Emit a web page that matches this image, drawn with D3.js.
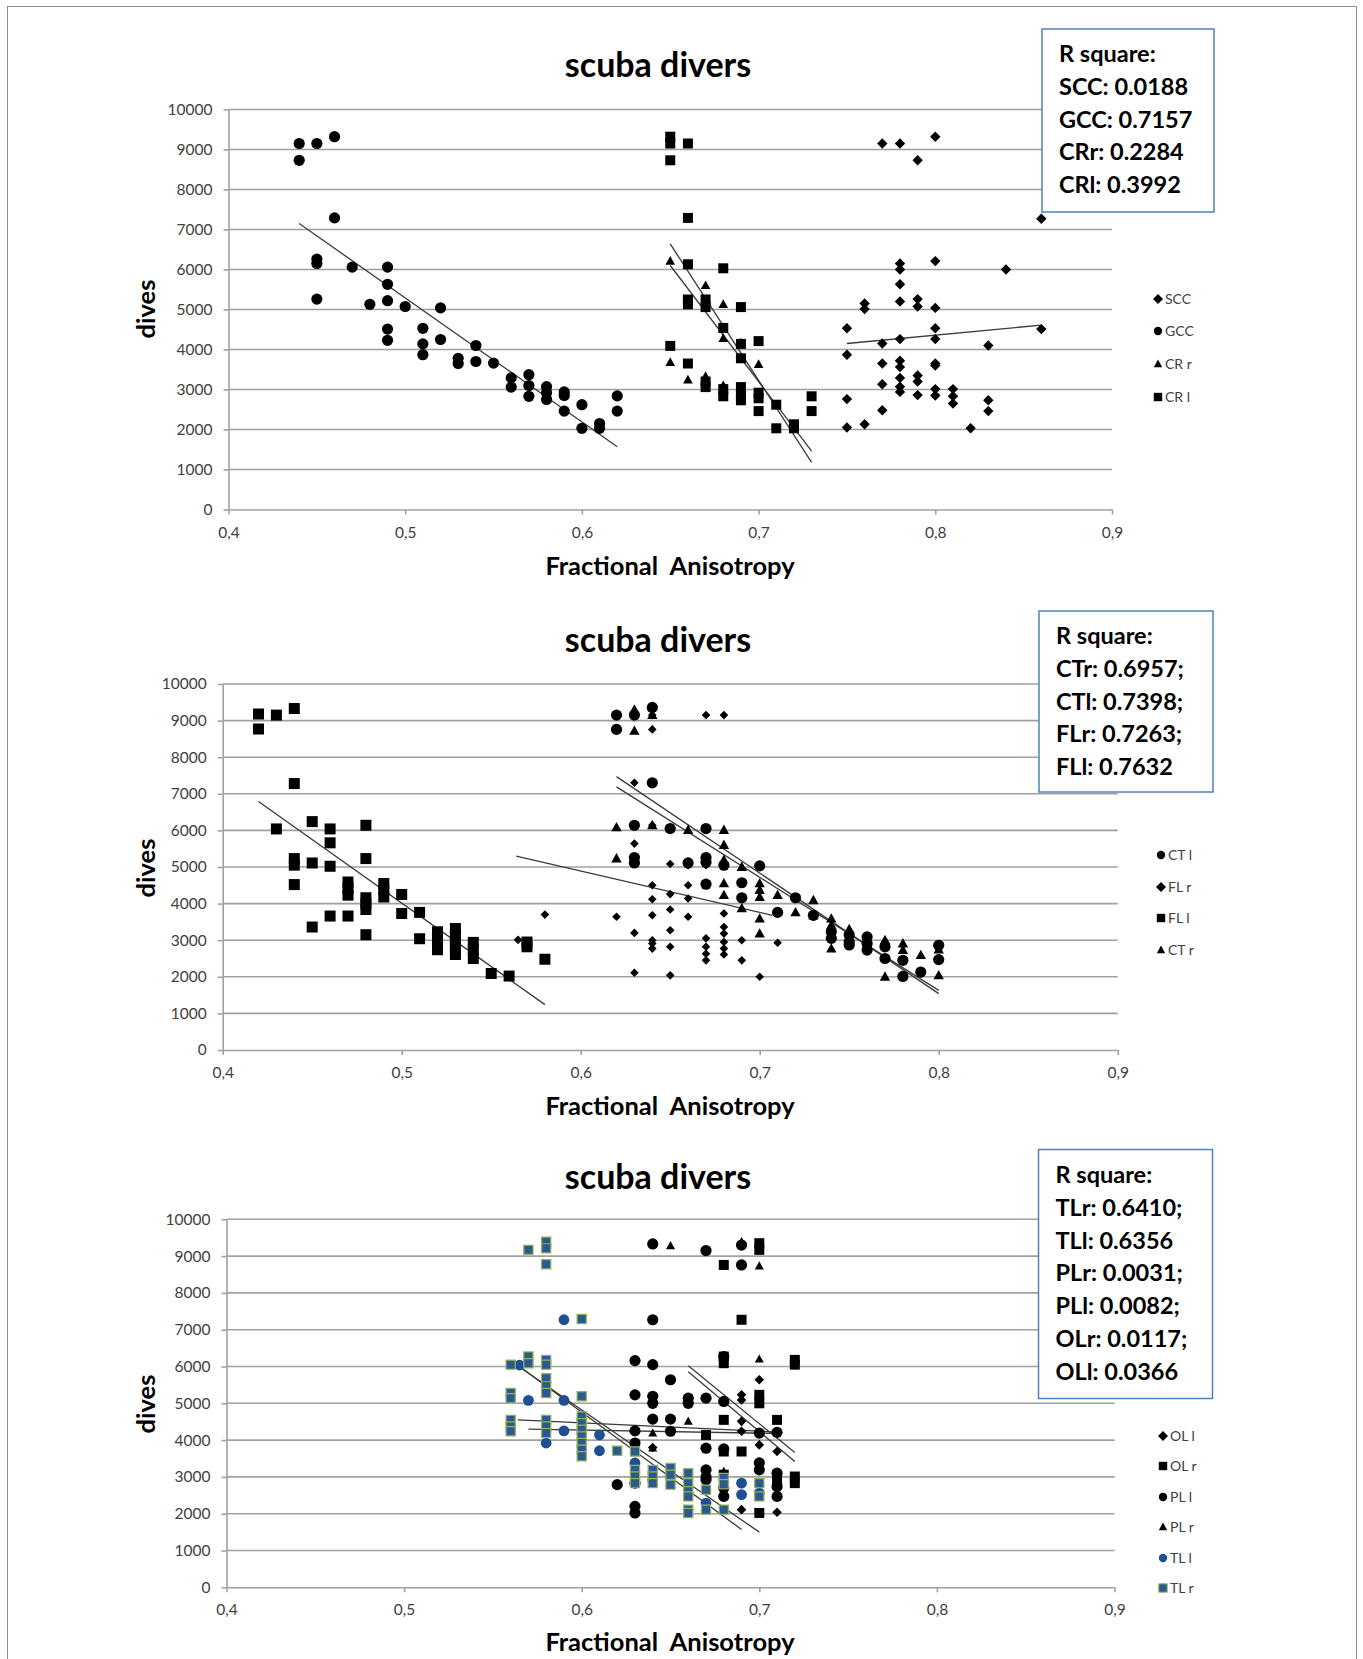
<!DOCTYPE html>
<html>
<head>
<meta charset="utf-8">
<script src="https://cdn.jsdelivr.net/npm/d3@7"></script>
<style>
  body { margin: 0; background: #fff; }
  svg { display: block; }
</style>
</head>
<body>
<div id="chart"></div>
<script>
// ---- data: [fractional anisotropy, dives] ----
const xTicks = [0.4, 0.5, 0.6, 0.7, 0.8, 0.9];
const yTicks = [0, 1000, 2000, 3000, 4000, 5000, 6000, 7000, 8000, 9000, 10000];

// panel 1
const scc = [[0.77,9150],[0.78,9150],[0.79,8730],[0.80,9320],[0.86,7270],[0.78,6150],[0.78,6000],[0.80,6210],[0.84,6000],
  [0.78,5630],[0.76,5150],[0.76,5010],[0.78,5200],[0.79,5260],[0.79,5075],[0.80,5040],[0.75,4530],[0.80,4530],[0.86,4510],
  [0.77,4150],[0.78,4260],[0.80,4260],[0.83,4100],[0.75,3870],[0.77,3650],[0.78,3720],[0.78,3560],[0.80,3650],[0.80,3600],
  [0.77,3130],[0.78,3290],[0.78,3070],[0.78,2940],[0.79,3350],[0.79,3200],[0.79,2860],[0.80,3010],[0.80,2850],[0.81,3010],
  [0.81,2830],[0.81,2650],[0.83,2730],[0.83,2460],[0.75,2760],[0.77,2480],[0.75,2050],[0.76,2130],[0.82,2030]];
const gcc = [[0.44,9150],[0.44,8730],[0.45,9150],[0.46,9320],[0.46,7290],[0.45,6260],[0.45,6150],[0.45,5260],[0.47,6060],
  [0.48,5130],[0.49,6060],[0.49,5630],[0.49,5220],[0.49,4510],[0.49,4230],[0.50,5075],[0.51,4530],[0.51,4140],[0.51,3870],
  [0.52,5040],[0.52,4250],[0.53,3780],[0.53,3650],[0.54,4100],[0.54,3700],[0.55,3660],[0.56,3290],[0.56,3060],[0.57,3370],
  [0.57,3100],[0.57,2830],[0.58,3070],[0.58,2920],[0.58,2750],[0.59,2940],[0.59,2850],[0.59,2460],[0.60,2620],[0.60,2030],
  [0.61,2150],[0.61,2030],[0.62,2840],[0.62,2460]];
const crR = [[0.65,6210],[0.65,3680],[0.66,3240],[0.67,5600],[0.67,3330],[0.68,5130],[0.68,4280],[0.68,3100],[0.69,4170],[0.70,3630]];
const crL = [[0.65,9320],[0.65,9150],[0.65,8730],[0.66,9150],[0.66,7290],[0.66,6130],[0.66,5250],[0.66,5130],[0.65,4090],
  [0.66,3650],[0.67,5250],[0.67,5060],[0.67,3200],[0.67,3060],[0.68,6030],[0.68,4540],[0.68,3010],[0.68,2830],[0.69,5060],
  [0.69,4140],[0.69,3780],[0.69,3060],[0.69,2870],[0.69,2730],[0.70,4210],[0.70,2920],[0.70,2780],[0.70,2460],[0.71,2620],
  [0.71,2030],[0.72,2130],[0.72,2030],[0.73,2830],[0.73,2460]];
const sccTrend = [[0.75,4150],[0.86,4610]];
const gccTrend = [[0.44,7150],[0.62,1570]];
const crRTrend = [[0.65,6100],[0.73,1460]];
const crLTrend = [[0.65,6640],[0.73,1180]];
const rSquare1 = ['R square:', 'SCC: 0.0188', 'GCC: 0.7157', 'CRr: 0.2284', 'CRl: 0.3992'];

// panel 2
const ctL = [[0.62,9150],[0.62,8760],[0.63,9150],[0.64,9360],[0.64,7300],[0.63,6140],[0.65,6050],[0.67,6050],[0.63,5260],
  [0.63,5110],[0.66,5110],[0.67,5260],[0.67,5130],[0.68,5050],[0.70,5030],[0.67,4530],[0.69,4570],[0.69,4160],[0.72,4160],
  [0.71,3760],[0.73,3680],[0.74,3230],[0.74,3050],[0.75,3140],[0.75,2960],[0.75,2870],[0.76,3090],[0.76,2910],[0.76,2730],
  [0.77,2820],[0.77,2500],[0.78,2450],[0.78,2010],[0.79,2130],[0.80,2860],[0.80,2470]];
const flR = [[0.565,3010],[0.58,3700],[0.62,3640],[0.63,7300],[0.63,5640],[0.63,3200],[0.63,2110],[0.64,8760],[0.64,9150],
  [0.64,6140],[0.64,4500],[0.64,4120],[0.64,3680],[0.64,3000],[0.64,2910],[0.64,2770],[0.65,5080],[0.65,4260],[0.65,3840],
  [0.65,3270],[0.65,2820],[0.65,2040],[0.66,5050],[0.66,4500],[0.66,4140],[0.66,3640],[0.67,9150],[0.67,5050],[0.67,3050],
  [0.67,2820],[0.67,2630],[0.67,2450],[0.68,9150],[0.68,3730],[0.68,3360],[0.68,3180],[0.68,2950],[0.68,2770],[0.68,2610],
  [0.69,3000],[0.69,2450],[0.70,2000],[0.71,2930]];
const flL = [[0.42,9180],[0.42,8770],[0.43,9150],[0.44,9330],[0.44,7280],[0.43,6040],[0.45,6240],[0.46,6040],[0.46,5660],
  [0.48,6140],[0.44,5230],[0.44,5050],[0.45,5110],[0.46,5020],[0.44,4520],[0.48,5230],[0.47,4590],[0.47,4410],[0.47,4230],
  [0.49,4550],[0.49,4370],[0.49,4180],[0.48,4160],[0.48,4000],[0.48,3840],[0.50,4250],[0.50,3730],[0.51,3760],[0.45,3360],
  [0.46,3660],[0.47,3660],[0.48,3150],[0.51,3040],[0.52,3230],[0.52,3040],[0.52,2860],[0.52,2740],[0.53,3320],[0.53,3140],
  [0.53,2950],[0.53,2770],[0.53,2610],[0.54,2940],[0.54,2730],[0.54,2500],[0.55,2090],[0.56,2020],[0.57,2950],[0.57,2820],
  [0.58,2480]];
const ctR = [[0.63,9300],[0.63,8720],[0.64,9150],[0.64,6140],[0.62,6080],[0.66,6010],[0.68,6010],[0.68,5600],[0.62,5230],
  [0.68,5190],[0.69,5000],[0.68,4550],[0.70,4550],[0.70,4370],[0.70,4180],[0.68,4230],[0.69,3870],[0.71,4230],[0.73,4090],
  [0.72,3760],[0.73,3680],[0.70,3590],[0.74,3590],[0.74,3410],[0.74,2770],[0.75,3300],[0.70,3180],[0.76,2980],[0.77,3000],
  [0.77,2000],[0.78,2910],[0.78,2730],[0.79,2590],[0.80,2740],[0.80,2040]];
const ctLTrend = [[0.62,7470],[0.80,1540]];
const ctRTrend = [[0.62,7190],[0.80,1630]];
const flRTrend = [[0.564,5300],[0.707,3680]];
const flLTrend = [[0.42,6790],[0.58,1240]];
const rSquare2 = ['R square:', 'CTr: 0.6957;', 'CTl: 0.7398;', 'FLr: 0.7263;', 'FLl: 0.7632'];

// panel 3
const olL = [[0.69,9300],[0.70,5640],[0.69,5230],[0.69,5090],[0.69,4510],[0.69,4240],[0.70,3870],[0.71,3690],[0.69,2110],
  [0.71,2040],[0.70,2520],[0.64,3800]];
const olR = [[0.68,8760],[0.70,9350],[0.70,9170],[0.69,7270],[0.68,6270],[0.68,6090],[0.70,5230],[0.70,5000],[0.68,4550],
  [0.67,4140],[0.71,4550],[0.68,3690],[0.69,3690],[0.72,3010],[0.72,2830],[0.68,3060],[0.70,2020],[0.71,2920],[0.72,6180],
  [0.72,6050]];
const plL = [[0.64,9330],[0.67,9150],[0.69,8760],[0.69,9300],[0.64,7270],[0.63,6160],[0.64,6050],[0.65,5640],[0.63,5230],
  [0.64,5190],[0.64,5000],[0.66,5140],[0.66,5000],[0.67,5140],[0.68,6270],[0.68,5050],[0.64,4570],[0.65,4570],[0.65,4240],
  [0.63,4250],[0.63,3920],[0.67,3780],[0.68,3760],[0.70,4190],[0.71,4210],[0.62,2790],[0.63,2830],[0.63,2200],[0.63,2020],
  [0.67,3190],[0.67,3000],[0.67,2920],[0.68,2700],[0.68,2470],[0.70,3380],[0.70,3190],[0.71,3100],[0.71,2740],[0.71,2470]];
const plR = [[0.65,9280],[0.69,9390],[0.70,8730],[0.70,6200],[0.66,4510],[0.64,4190],[0.64,3780],[0.68,3150],[0.72,6180]];
const tlL = [[0.565,6040],[0.59,7270],[0.57,5080],[0.59,5080],[0.58,3920],[0.59,4250],[0.61,4140],[0.61,3710],[0.63,3380],
  [0.64,2920],[0.65,3010],[0.67,2290],[0.69,2830],[0.69,2520],[0.70,2560]];
const tlR = [[0.57,9170],[0.58,9390],[0.58,9210],[0.58,8780],[0.60,7290],[0.56,6050],[0.57,6270],[0.57,6090],[0.58,6180],
  [0.58,6050],[0.58,5680],[0.58,5460],[0.58,5280],[0.56,5280],[0.56,5140],[0.60,5190],[0.56,4550],[0.56,4370],[0.56,4240],
  [0.58,4550],[0.58,4370],[0.58,4190],[0.60,4640],[0.60,4460],[0.60,4280],[0.60,4100],[0.60,3920],[0.60,3740],[0.60,3560],
  [0.62,3710],[0.63,3690],[0.63,3190],[0.63,3010],[0.63,2830],[0.64,3190],[0.64,3010],[0.64,2830],[0.65,3240],[0.65,3060],
  [0.65,2790],[0.66,3100],[0.66,2830],[0.66,2610],[0.66,2470],[0.66,2110],[0.66,2020],[0.67,2650],[0.67,2110],[0.68,2970],
  [0.68,2800],[0.68,2110],[0.70,2830],[0.70,2470]];
const olLTrend = [[0.66,6020],[0.72,3660]];
const olRTrend = [[0.66,5860],[0.72,3420]];
const plLTrend = [[0.564,4550],[0.71,4220]];
const plRTrend = [[0.57,4300],[0.71,4180]];
const tlLTrend = [[0.565,6000],[0.69,1570]];
const tlRTrend = [[0.56,6150],[0.70,1500]];
const rSquare3 = ['R square:', 'TLr: 0.6410;', 'TLl: 0.6356', 'PLr: 0.0031;', 'PLl: 0.0082;', 'OLr: 0.0117;', 'OLl: 0.0366'];

// ---- drawing ----
const FONT = "Lato, 'Open Sans', sans-serif";
const GRID = '#a0a0a0';
const TXT = '#404040';

const svg = d3.select('#chart').append('svg')
    .attr('width', 1363)
    .attr('height', 1659);

svg.append('rect').attr('width', 1363).attr('height', 1659).attr('fill', '#fff');
svg.append('rect')
    .attr('x', 7.5).attr('y', 6.5).attr('width', 1349).attr('height', 1700)
    .attr('fill', 'none').attr('stroke', '#8c8c8c').attr('stroke-width', 1);

// marker shapes, sized to look like the Excel markers
const shapes = {
    diamond: s => `M0,${-s}L${s},0L0,${s}L${-s},0Z`,
    square: s => `M${-s},${-s}H${s}V${s}H${-s}Z`,
    circle: s => d3.symbol().type(d3.symbolCircle).size(Math.PI * s * s)(),
    triangle: s => `M0,${-s * 1.05}L${s},${s * 0.75}L${-s},${s * 0.75}Z`
};

function panel(p) {
    const g = svg.append('g');
    const x = d3.scaleLinear().domain([0.4, 0.9]).range([p.left, p.right]);
    const y = d3.scaleLinear().domain([0, 10000]).range([p.bottom, p.top]);

    // horizontal gridlines
    g.append('g').selectAll('line')
        .data(yTicks.slice(1))
        .join('line')
        .attr('x1', p.left).attr('x2', p.right)
        .attr('y1', d => y(d)).attr('y2', d => y(d))
        .attr('stroke', GRID).attr('stroke-width', 1.6);

    const yAxis = g.append('g')
        .attr('transform', `translate(${p.left},0)`)
        .call(d3.axisLeft(y).tickValues(yTicks).tickSize(5).tickSizeOuter(0).tickPadding(11).tickFormat(d3.format('d')));
    const xAxis = g.append('g')
        .attr('transform', `translate(0,${p.bottom})`)
        .call(d3.axisBottom(x).tickValues(xTicks).tickSize(5).tickSizeOuter(0).tickPadding(12)
            .tickFormat(d => d3.format('.1f')(d).replace('.', ',')));
    [yAxis, xAxis].forEach(a => {
        a.select('.domain').attr('stroke', GRID).attr('stroke-width', 1.6);
        a.selectAll('.tick line').attr('stroke', GRID).attr('stroke-width', 1.6);
        a.selectAll('.tick text').attr('fill', TXT).style('font-family', FONT).style('font-size', '15.5px');
    });

    // titles
    g.append('text')
        .attr('x', 658).attr('y', p.titleY)
        .attr('text-anchor', 'middle')
        .style('font-family', FONT).style('font-weight', 700).style('font-size', '34px')
        .text('scuba divers');
    g.append('text')
        .attr('x', 670).attr('y', p.xTitleY)
        .attr('text-anchor', 'middle')
        .style('font-family', FONT).style('font-weight', 700).style('font-size', '25.5px')
        .style('white-space', 'pre')
        .text('Fractional  Anisotropy');
    g.append('text')
        .attr('transform', `translate(155,${p.yTitleY}) rotate(-90)`)
        .attr('text-anchor', 'middle')
        .style('font-family', FONT).style('font-weight', 700).style('font-size', '25.5px')
        .text('dives');

    // trend lines
    const line = d3.line().x(d => x(d[0])).y(d => y(d[1]));
    g.append('g').selectAll('path')
        .data(p.trends)
        .join('path')
        .attr('d', line)
        .attr('fill', 'none').attr('stroke', '#3a3a3a').attr('stroke-width', 1.3);

    // points, series in legend order so later ones sit on top
    p.series.forEach(s => {
        g.append('g').selectAll('path')
            .data(s.data)
            .join('path')
            .attr('transform', d => `translate(${x(d[0])},${y(d[1])})`)
            .attr('d', shapes[s.shape](s.size))
            .attr('fill', s.fill || '#000')
            .attr('stroke', s.stroke || 'none')
            .attr('stroke-width', s.stroke ? 1.2 : 0);
    });

    // legend
    const leg = g.append('g').selectAll('g')
        .data(p.series)
        .join('g')
        .attr('transform', (d, i) => `translate(${p.legX},${p.legY[i]})`);
    leg.append('path')
        .attr('d', d => shapes[d.shape](d.shape === 'diamond' ? 5 : 4.2))
        .attr('fill', d => d.fill || '#000')
        .attr('stroke', d => d.stroke || 'none')
        .attr('stroke-width', d => d.stroke ? 1 : 0);
    leg.append('text')
        .attr('x', 7).attr('y', 5)
        .attr('fill', TXT)
        .style('font-family', FONT).style('font-size', '14px')
        .text(d => d.name);

    // R square box
    g.append('rect')
        .attr('x', p.box.x).attr('y', p.box.y).attr('width', p.box.w).attr('height', p.box.h)
        .attr('fill', '#fff').attr('stroke', '#4f81bd').attr('stroke-width', 1.5);
    g.append('g').selectAll('text')
        .data(p.rSquare)
        .join('text')
        .attr('x', p.box.x + 17)
        .attr('y', (d, i) => p.box.first + i * 32.8)
        .style('font-family', FONT).style('font-weight', 700).style('font-size', '23.5px')
        .text(d => d);
}

panel({
    left: 228.5, right: 1112, top: 109.5, bottom: 509.5,
    titleY: 77, xTitleY: 575, yTitleY: 309,
    series: [
        { name: 'SCC', data: scc, shape: 'diamond', size: 5.2 },
        { name: 'GCC', data: gcc, shape: 'circle', size: 5.6 },
        { name: 'CR r', data: crR, shape: 'triangle', size: 4.8 },
        { name: 'CR l', data: crL, shape: 'square', size: 5 }
    ],
    trends: [sccTrend, gccTrend, crRTrend, crLTrend],
    legX: 1158, legY: [299, 331, 364, 397],
    box: { x: 1042, y: 29, w: 172, h: 183, first: 62 },
    rSquare: rSquare1
});

panel({
    left: 222.7, right: 1117.7, top: 684, bottom: 1050,
    titleY: 652, xTitleY: 1115, yTitleY: 868,
    series: [
        { name: 'CT l', data: ctL, shape: 'circle', size: 5.6 },
        { name: 'FL r', data: flR, shape: 'diamond', size: 4.3 },
        { name: 'FL l', data: flL, shape: 'square', size: 5.5 },
        { name: 'CT r', data: ctR, shape: 'triangle', size: 5.2 }
    ],
    trends: [ctLTrend, flRTrend, flLTrend, ctRTrend],
    legX: 1161, legY: [855, 887, 918, 950],
    box: { x: 1039, y: 611, w: 174, h: 181, first: 644 },
    rSquare: rSquare2
});

panel({
    left: 226.5, right: 1114.5, top: 1219.3, bottom: 1587.3,
    titleY: 1189, xTitleY: 1651, yTitleY: 1404,
    series: [
        { name: 'OL l', data: olL, shape: 'diamond', size: 4.8 },
        { name: 'OL r', data: olR, shape: 'square', size: 5 },
        { name: 'PL l', data: plL, shape: 'circle', size: 5.6 },
        { name: 'PL r', data: plR, shape: 'triangle', size: 4.5 },
        { name: 'TL l', data: tlL, shape: 'circle', size: 5.4, fill: '#1f4e92' },
        { name: 'TL r', data: tlR, shape: 'square', size: 4.6, fill: '#2a5a8e', stroke: '#93b25a' }
    ],
    trends: [olLTrend, olRTrend, plLTrend, plRTrend, tlLTrend, tlRTrend],
    legX: 1163, legY: [1436, 1466, 1497, 1527, 1558, 1588],
    box: { x: 1038.5, y: 1149.5, w: 174, h: 249, first: 1183 },
    rSquare: rSquare3
});
</script>
</body>
</html>
